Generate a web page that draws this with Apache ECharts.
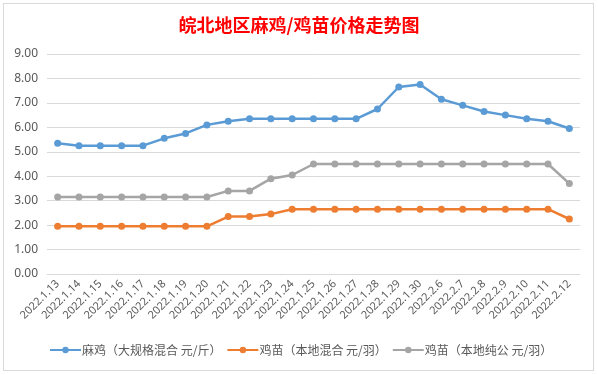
<!DOCTYPE html>
<html>
<head>
<meta charset="utf-8">
<script src="https://cdn.jsdelivr.net/npm/echarts@6/dist/echarts.min.js"></script>
<style>
  html, body { margin: 0; padding: 0; background: #fff; }
  #frame { position: absolute; left: 3px; top: 3px; width: 589px; height: 366px; border: 1px solid #d9d9d9; }
  #main { width: 598px; height: 375px; position: absolute; left: 0; top: 0; }
</style>
</head>
<body>
<div id="frame"></div>
<div id="main"></div>
<script>
var dates = [
  "2022.1.13", "2022.1.14", "2022.1.15", "2022.1.16", "2022.1.17", "2022.1.18",
  "2022.1.19", "2022.1.20", "2022.1.21", "2022.1.22", "2022.1.23", "2022.1.24",
  "2022.1.25", "2022.1.26", "2022.1.27", "2022.1.28", "2022.1.29", "2022.1.30",
  "2022.2.6", "2022.2.7", "2022.2.8", "2022.2.9", "2022.2.10", "2022.2.11", "2022.2.12"
];
var maji = [5.35, 5.25, 5.25, 5.25, 5.25, 5.55, 5.75, 6.1, 6.25, 6.35, 6.35, 6.35,
  6.35, 6.35, 6.35, 6.75, 7.65, 7.75, 7.15, 6.9, 6.65, 6.5, 6.35, 6.25, 5.95];
var jimiaoMix = [1.95, 1.95, 1.95, 1.95, 1.95, 1.95, 1.95, 1.95, 2.35, 2.35, 2.45, 2.65,
  2.65, 2.65, 2.65, 2.65, 2.65, 2.65, 2.65, 2.65, 2.65, 2.65, 2.65, 2.65, 2.25];
var jimiaoMale = [3.15, 3.15, 3.15, 3.15, 3.15, 3.15, 3.15, 3.15, 3.4, 3.4, 3.9, 4.05,
  4.5, 4.5, 4.5, 4.5, 4.5, 4.5, 4.5, 4.5, 4.5, 4.5, 4.5, 4.5, 3.7];
var names = ["麻鸡（大规格混合 元/斤）", "鸡苗（本地混合 元/羽）", "鸡苗（本地纯公 元/羽）"];

var chart = echarts.init(document.getElementById("main"));

function mkSeries(name, data, color) {
  return {
    name: name,
    type: "line",
    data: data,
    symbol: "circle",
    symbolSize: 7,
    itemStyle: { color: color },
    lineStyle: { color: color, width: 2.5 }
  };
}

var option = {
  animation: false,
  title: {
    text: "皖北地区麻鸡/鸡苗价格走势图",
    left: "center",
    top: 11,
    textStyle: { color: "#ff0000", fontSize: 18, fontWeight: "bold", fontFamily: "Noto Sans CJK SC" }
  },
  grid: { left: 47, right: 18, top: 54, bottom: 101 },
  legend: {
    bottom: 14,
    left: 44,
    itemWidth: 31,
    itemHeight: 8,
    itemGap: 5,
    textStyle: { color: "#595959", fontSize: 12, fontFamily: "Noto Sans CJK SC", padding: [0, 0, 0, -4] },
    data: names
  },
  xAxis: {
    type: "category",
    data: dates,
    axisLine: { lineStyle: { color: "#d9d9d9" } },
    axisTick: { show: false },
    axisLabel: { rotate: 45, interval: 0, color: "#595959", fontSize: 11, fontFamily: "Noto Sans", margin: 8 }
  },
  yAxis: {
    type: "value",
    min: 0,
    max: 9,
    interval: 1,
    axisLine: { show: false },
    axisTick: { show: false },
    splitLine: { lineStyle: { color: "#d9d9d9" } },
    axisLabel: {
      color: "#595959", fontSize: 12, fontFamily: "Noto Sans", margin: 9,
      formatter: function(v) { return v.toFixed(2); }
    }
  },
  series: [
    mkSeries(names[0], maji, "#5b9bd5"),
    mkSeries(names[1], jimiaoMix, "#ed7d31"),
    mkSeries(names[2], jimiaoMale, "#a5a5a5")
  ]
};

chart.setOption(option);
</script>
</body>
</html>
